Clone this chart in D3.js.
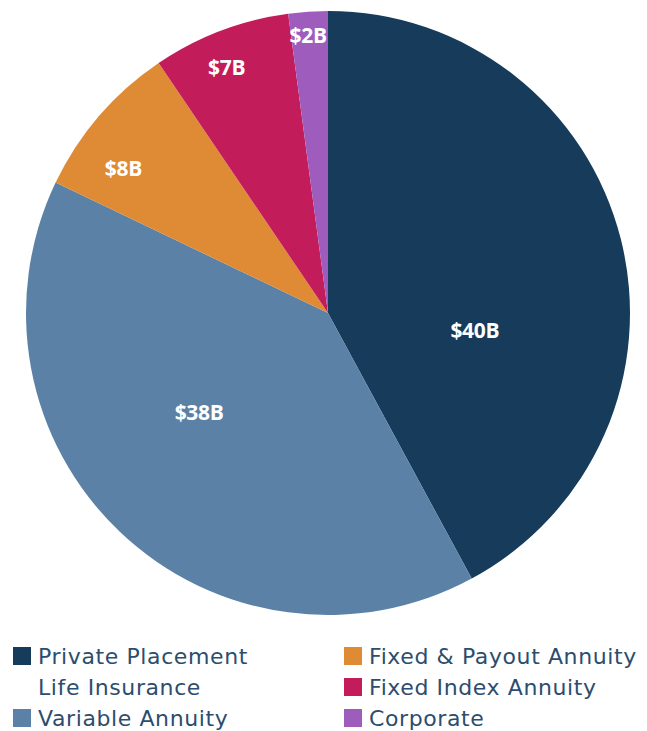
<!DOCTYPE html>
<html>
<head>
<meta charset="utf-8">
<script src="https://cdn.jsdelivr.net/npm/d3@7"></script>
<style>
  html, body { margin: 0; padding: 0; background: #fff; }
  svg { display: block; }
  .slice-label { font-family: "Open Sans", sans-serif; font-weight: 700; font-size: 21px; fill: #fff; letter-spacing: -0.3px; }
  .legend-text { font-family: "DejaVu Sans", sans-serif; font-size: 22px; fill: #2c4d6e; letter-spacing: 0.6px; }
</style>
</head>
<body>
<svg id="chart" width="647" height="731"></svg>
<script>
// Data
const categories = ['Private Placement Life Insurance', 'Variable Annuity', 'Fixed & Payout Annuity', 'Fixed Index Annuity', 'Corporate'];
const values = [40, 38, 8, 7, 2];
const valueLabels = ['$40B', '$38B', '$8B', '$7B', '$2B'];
const colors = ['#163b5b', '#5b82a6', '#df8a35', '#c31c5a', '#9e5dbd'];

// Label placement inside each slice (fraction of slice angle, fraction of radius)
const labelAngleFrac = [0.64, 0.56, 0.32, 0.44, 0.46];
const labelRadiusFrac = [0.49, 0.54, 0.83, 0.88, 0.92];

// Legend text, wrapped like the original
const legendLines = [
    ['Private Placement', 'Life Insurance'],
    ['Variable Annuity'],
    ['Fixed & Payout Annuity'],
    ['Fixed Index Annuity'],
    ['Corporate']
];

const svg = d3.select('#chart');
const cx = 328, cy = 313, radius = 302;

const pie = d3.pie().sort(null).value(d => d)(values);
const arc = d3.arc().innerRadius(0).outerRadius(radius);

const g = svg.append('g').attr('transform', `translate(${cx},${cy})`);

g.selectAll('path.slice')
    .data(pie)
    .join('path')
    .attr('class', 'slice')
    .attr('d', arc)
    .attr('fill', (d, i) => colors[i]);

g.selectAll('text.slice-label')
    .data(pie)
    .join('text')
    .attr('class', 'slice-label')
    .attr('text-anchor', 'middle')
    .attr('dy', '0.35em')
    .attr('transform', (d, i) => {
        const a = d.startAngle + (d.endAngle - d.startAngle) * labelAngleFrac[i];
        const r = radius * labelRadiusFrac[i];
        return `translate(${r * Math.sin(a)},${-r * Math.cos(a)})`;
    })
    .text((d, i) => valueLabels[i]);

// Legend
const legendCol = [0, 0, 1, 1, 1];
const legendRow = [0, 2, 0, 1, 2];
const colX = [13, 344];
const rowY = 647, rowH = 31;

const legend = svg.append('g').attr('class', 'legend');
categories.forEach((c, i) => {
    const x = colX[legendCol[i]];
    const y = rowY + legendRow[i] * rowH;
    legend.append('rect')
        .attr('x', x).attr('y', y)
        .attr('width', 18).attr('height', 18)
        .attr('fill', colors[i]);
    legendLines[i].forEach((line, j) => {
        legend.append('text')
            .attr('class', 'legend-text')
            .attr('x', x + 25)
            .attr('y', y + 17 + j * rowH)
            .text(line);
    });
});
</script>
</body>
</html>
